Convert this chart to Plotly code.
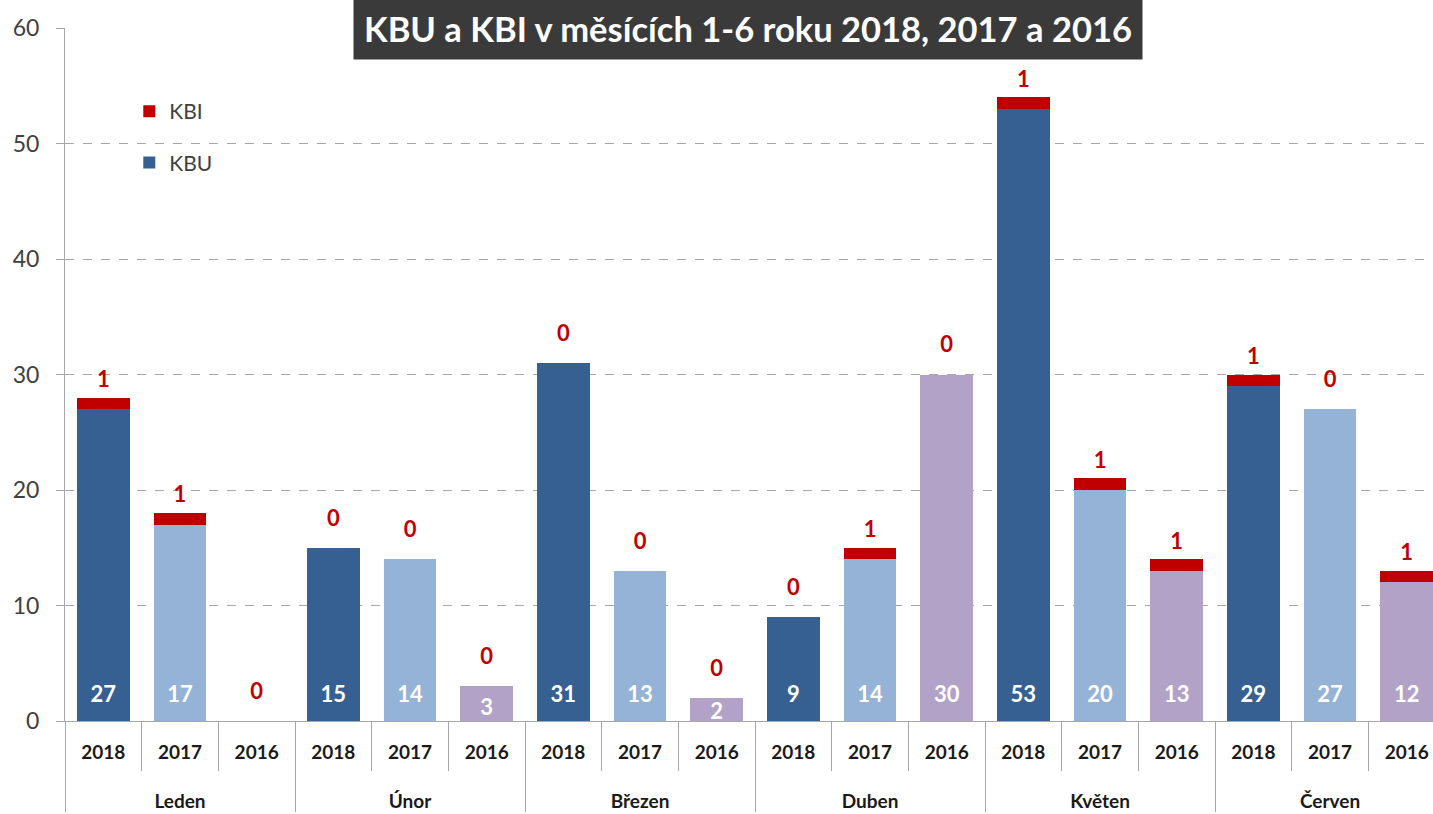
import plotly.graph_objects as go

months = ["Leden", "Únor", "Březen", "Duben", "Květen", "Červen"]
years = ["2018", "2017", "2016"]
kbu = [27, 17, 0, 15, 14, 3, 31, 13, 2, 9, 14, 30, 53, 20, 13, 29, 27, 12]
kbi = [1, 1, 0, 0, 0, 0, 0, 0, 0, 0, 1, 0, 1, 1, 1, 1, 0, 1]
y_ticks = [0, 10, 20, 30, 40, 50, 60]

year_colors = {"2018": "#376092", "2017": "#95B3D7", "2016": "#B3A2C7"}
kbi_color = "#C00000"
FONT = "Lato"

# tick-label strings (taller invisible spaces push the month row lower)
strut = "<span style='font-size:30px'>\u00a0</span>"
x_month = ["<br>" + m for m in months for _ in years]
x_year_raw = [y for _ in months for y in years]
x_year = [strut + y + strut for y in x_year_raw]
x_mc = [x_month, x_year]
bar_cols = [year_colors[y] for y in x_year_raw]

fig = go.Figure()
fig.add_trace(go.Bar(
    x=x_mc, y=kbu, name="KBU", marker=dict(color=bar_cols, line=dict(width=0)),
    legendgroup="kbu", legendrank=2,
))
fig.add_trace(go.Bar(
    x=x_mc, y=kbi, name="KBI", marker=dict(color=kbi_color, line=dict(width=0)),
    legendgroup="kbi", legendrank=1,
))
# KBU value labels near the bar base
fig.add_trace(go.Scatter(
    x=x_mc, y=[min(2.1, v * 0.33) for v in kbu], mode="text",
    text=[str(v) if v > 0 else "" for v in kbu],
    textfont=dict(family=FONT, size=22, color="white", weight="bold"),
    showlegend=False, hoverinfo="skip",
))
# KBI value labels above the stack
fig.add_trace(go.Scatter(
    x=x_mc, y=[u + 2.4 for u in kbu], mode="text",
    text=[str(v) for v in kbi],
    textfont=dict(family=FONT, size=22, color=kbi_color, weight="bold"),
    showlegend=False, hoverinfo="skip",
))

fig.update_layout(
    width=1433, height=814,
    barmode="stack", bargap=0.31,
    plot_bgcolor="white", paper_bgcolor="white",
    margin=dict(l=65, r=0, t=28, b=93),
    font=dict(family=FONT, color="#404040"),
    legend=dict(
        x=0.047, y=0.909, xanchor="left", yanchor="top",
        traceorder="grouped", tracegroupgap=21,
        font=dict(family=FONT, size=21, color="#404040"),
        bgcolor="rgba(0,0,0,0)",
    ),
    xaxis=dict(
        type="multicategory",
        range=[-0.5, 17.343],
        showline=True, linecolor="#A6A6A6", linewidth=1,
        tickson="boundaries", ticks="outside", ticklen=49, tickcolor="#A6A6A6",
        showdividers=True, dividercolor="#A6A6A6", dividerwidth=1,
        tickfont=dict(family=FONT, size=19, color="#1a1a1a", weight="bold"),
        ticklabelstandoff=14,
        showgrid=False,
    ),
    yaxis=dict(
        range=[0, 60], tickvals=y_ticks,
        showgrid=True, gridcolor="#A6A6A6", griddash="dash", gridwidth=1,
        showline=True, linecolor="#A6A6A6", linewidth=1,
        ticks="outside", ticklen=8, tickcolor="#A6A6A6",
        tickfont=dict(family=FONT, size=23, color="#404040"),
        ticklabelstandoff=12,
        zeroline=False,
    ),
    annotations=[dict(
        text="<b>KBU a KBI v měsících 1-6 roku 2018, 2017 a 2016</b>",
        xref="paper", yref="paper", x=0.4993, y=1.0,
        xanchor="center", yanchor="middle", showarrow=False,
        font=dict(family=FONT, size=34.5, color="white"),
        bgcolor="#3A3A3A", borderpad=10,
    )],
)

fig.write_html("out.html", config={"displayModeBar": False},
               post_script="document.body.style.margin='0';")
